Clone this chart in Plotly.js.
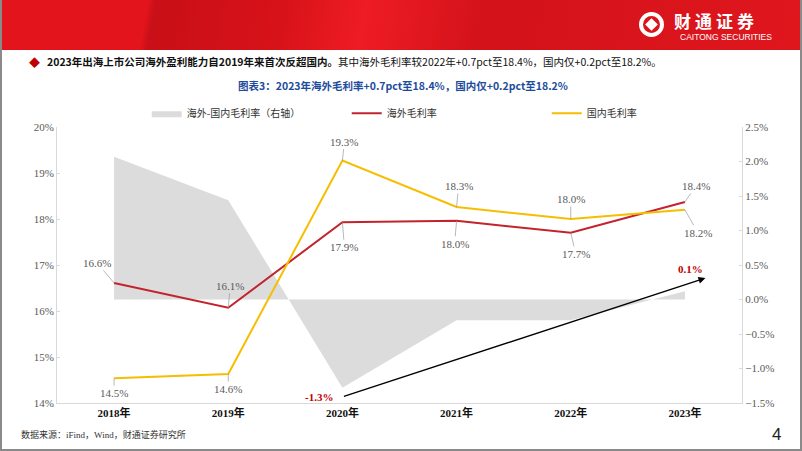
<!DOCTYPE html>
<html><head><meta charset="utf-8">
<script src="https://cdn.plot.ly/plotly-3.0.1.min.js"></script>
<style>
html,body{margin:0;padding:0;background:#fff;}
#page{position:relative;width:802px;height:451px;overflow:hidden;box-sizing:border-box;border:2px solid #8a8a8a;border-top:none;}
#hdr{position:absolute;left:0;top:0;width:802px;height:50px;background:linear-gradient(100deg,#e3141c 0%,#e3141c 18%,#c90f17 19%,#d81219 35%,#ee1c24 45%,#d3121a 60%,#e0161d 100%);}
#chart{position:absolute;left:0;top:0;width:802px;height:451px;}
.txt{position:absolute;font-family:"Noto Sans CJK SC","Noto Sans",sans-serif;white-space:nowrap;line-height:1.2;}
</style></head>
<body>
<div id="page">
<div id="chart"></div>
<div id="hdr"></div>
<div class="txt" style="left:637px;top:12px;width:25px;height:25px;border:4px solid #fff;border-radius:50%;box-sizing:border-box;"></div>
<div class="txt" style="left:645px;top:20px;width:9px;height:9px;background:#fff;transform:rotate(45deg);"></div>
<div class="txt" style="left:672px;top:12px;color:#fff;font-size:17px;line-height:1;font-weight:bold;letter-spacing:4px;">财通证券</div>
<div class="txt" style="left:678px;top:33px;color:#fff;font-family:'Liberation Sans',sans-serif;font-size:8.5px;line-height:1;">CAITONG SECURITIES</div>
<div class="txt" style="left:27px;top:56px;color:#c00000;font-size:11px;">◆</div>
<div class="txt" style="left:45px;top:56px;font-size:10.5px;color:#111;"><b>2023年出海上市公司海外盈利能力自2019年来首次反超国内。</b>其中海外毛利率较2022年+0.7pct至18.4%，国内仅+0.2pct至18.2%。</div>
<div class="txt" style="left:0;width:802px;text-align:center;top:80px;font-size:10.5px;font-weight:bold;color:#1c4c9c;">图表3：2023年海外毛利率+0.7pct至18.4%，国内仅+0.2pct至18.2%</div>
<div class="txt" style="left:19px;top:430px;font-size:9px;color:#333;font-family:'Liberation Serif','Noto Sans CJK SC',serif;">数据来源：iFind，Wind，财通证券研究所</div>
<div class="txt" style="left:770px;top:425px;font-size:17px;color:#222;font-family:'Liberation Sans',sans-serif;">4</div>
</div>
<script>
const years = ['2018年','2019年','2020年','2021年','2022年','2023年'];
const overseas = [16.61, 16.07, 17.93, 17.96, 17.70, 18.37];
const domestic = [14.54, 14.63, 19.27, 18.26, 18.00, 18.20];
const diff = [2.07, 1.44, -1.28, -0.30, -0.30, 0.12];
const overseasLabels = ['16.6%','16.1%','17.9%','18.0%','17.7%','18.4%'];
const domesticLabels = ['14.5%','14.6%','19.3%','18.3%','18.0%','18.2%'];
const diffCallouts = ['-1.3%','0.1%'];

const serif = '"Liberation Serif","Noto Sans CJK SC",serif';
// primary y = right axis (difference); y2 = left axis (margins), overlaid so lines draw on top
const traces = [
  {x: years, y: diff, type:'scatter', mode:'lines', fill:'tozeroy', fillcolor:'#dcdcdc',
   line:{width:0,color:'#dcdcdc'}, name:'海外-国内毛利率（右轴）', yaxis:'y'},
  {x: years, y: overseas, type:'scatter', mode:'lines', line:{color:'#c3232d',width:2}, name:'海外毛利率', yaxis:'y2'},
  {x: years, y: domestic, type:'scatter', mode:'lines', line:{color:'#f6be00',width:2}, name:'国内毛利率', yaxis:'y2'}
];

const redOff = [[-17,-20],[2,-22],[2,25],[-2,23],[5,21],[11,-16]];
const yelOff = [[0,15],[0,15],[2,-19],[2,-21],[0,-20],[13,23]];
const ann = [];
years.forEach((yr,i)=>{
  ann.push({x:yr, y:overseas[i], xref:'x', yref:'y2', text:overseasLabels[i], showarrow:true,
    ax:redOff[i][0], ay:redOff[i][1], arrowhead:0, arrowwidth:0.7, arrowcolor:'#9a9a9a', standoff:0,
    font:{family:serif,size:11,color:'#595959'}});
  ann.push({x:yr, y:domestic[i], xref:'x', yref:'y2', text:domesticLabels[i], showarrow:true,
    ax:yelOff[i][0], ay:yelOff[i][1], arrowhead:0, arrowwidth:0.7, arrowcolor:'#9a9a9a', standoff:0,
    font:{family:serif,size:11,color:'#595959'}});
});
// black trend arrow
ann.push({x:5.18, y:0.31, xref:'x', yref:'y', axref:'x', ayref:'y', ax:2.0, ay:-1.41,
  text:'', showarrow:true, arrowhead:2, arrowsize:1, arrowwidth:1.4, arrowcolor:'#000'});
ann.push({x:2, y:-1.41, xref:'x', yref:'y', xshift:-23, text:'<b>'+diffCallouts[0]+'</b>', showarrow:false,
  font:{family:serif,size:11,color:'#c00000'}});
ann.push({x:5, y:0.44, xref:'x', yref:'y', xshift:6, text:'<b>'+diffCallouts[1]+'</b>', showarrow:false,
  font:{family:serif,size:11,color:'#c00000'}});

const layout = {
  width:802, height:451,
  margin:{l:55, r:62, t:127, b:48},
  paper_bgcolor:'rgba(0,0,0,0)', plot_bgcolor:'rgba(0,0,0,0)',
  showlegend:true,
  legend:{orientation:'h', x:0.131, y:1.05, xanchor:'left', yanchor:'middle',
    entrywidth:155, entrywidthmode:'pixels', itemwidth:30, traceorder:'normal',
    font:{family:'"Noto Sans CJK SC",serif', size:10, color:'#333'}},
  xaxis:{type:'category', range:[-0.5,5.5], showgrid:false, zeroline:false,
    showline:true, linecolor:'#d9d9d9', linewidth:1, ticks:'',
    tickfont:{family:serif, size:11, color:'#111', weight:'bold'}},
  yaxis:{range:[-1.5,2.5], dtick:0.5, tickformat:'.1f', ticksuffix:'%', side:'right',
    showgrid:false, zeroline:false, showline:true, linecolor:'#d9d9d9', ticks:'inside', ticklen:3, tickcolor:'#d9d9d9',
    tickfont:{family:serif, size:11, color:'#595959'}},
  yaxis2:{range:[14,20], dtick:1, ticksuffix:'%', overlaying:'y', side:'left', showgrid:false, zeroline:false,
    showline:true, linecolor:'#d9d9d9', ticks:'inside', ticklen:3, tickcolor:'#d9d9d9',
    tickfont:{family:serif, size:11, color:'#595959'}},
  annotations:ann
};
Plotly.newPlot('chart', traces, layout, {displayModeBar:false, staticPlot:true});
</script>
</body></html>
